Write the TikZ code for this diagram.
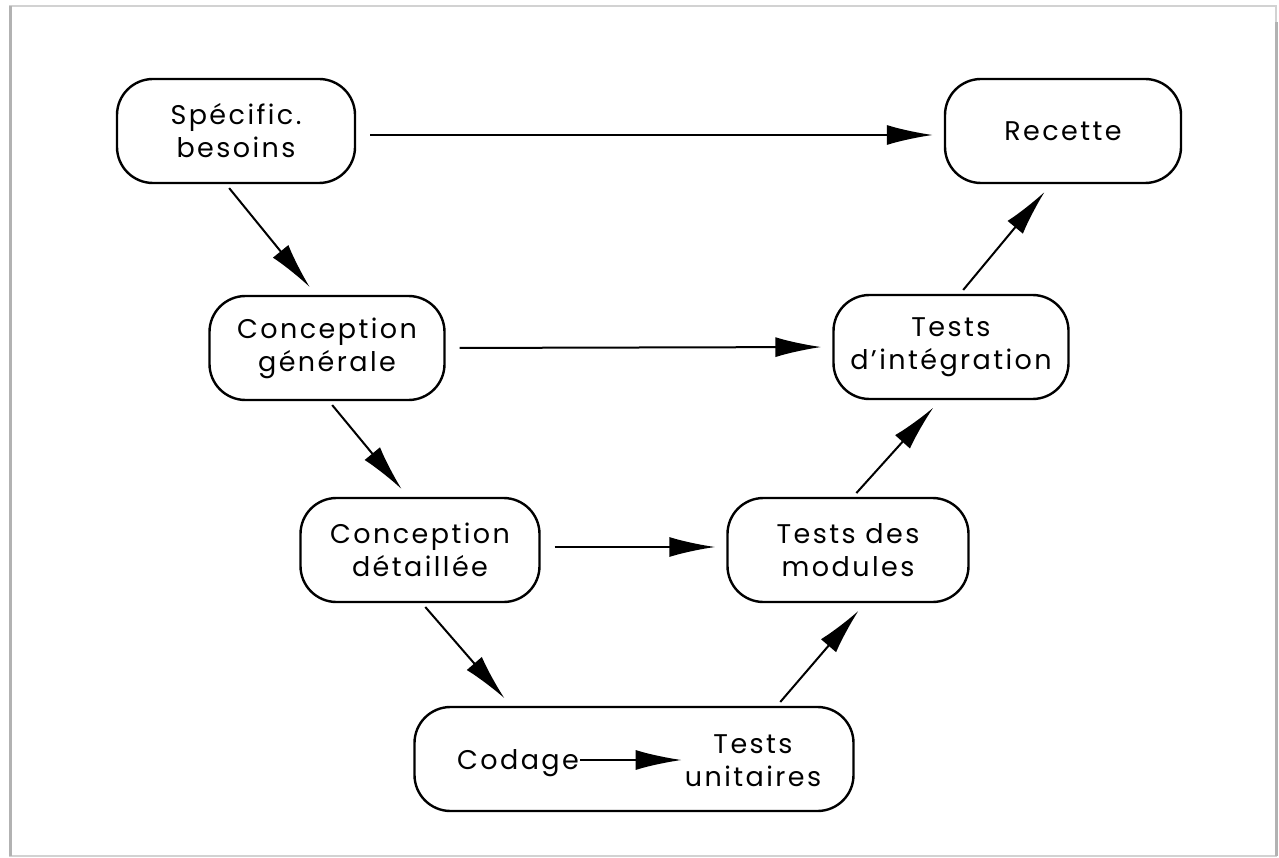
\documentclass[tikz,border=0pt]{standalone}
\usepackage{fontspec}
\setmainfont{Poppins}[LetterSpace=9]
\usepackage{tikz}
\usetikzlibrary{arrows.meta, positioning, calc}

\begin{document}
\begin{tikzpicture}[
    x=1pt, y=-1pt,
    etape/.style={draw, line width=2.4pt, rounded corners=36pt, minimum height=104pt,
                  minimum width=238pt, align=center, inner sep=0pt,
                  font=\fontsize{27}{33}\selectfont},
    texte/.style={align=center, inner sep=0pt, font=\fontsize{27}{33}\selectfont},
    fleche/.style={-{Latex[length=46pt, width=20pt]}, line width=2pt},
    horiz/.style={fleche, shorten <=14pt, shorten >=11pt},
    diag/.style={fleche, shorten <=5pt, shorten >=10pt}
  ]
    \useasboundingbox (0,0) rectangle (1279,858);
    % cadre
    \draw[gray!35, line width=1.2pt] (10,6) rectangle (1276,856);
    \draw[gray!60, line width=3pt] (10,6) -- (10,856);
    \draw[gray!60, line width=3pt] (1276,22) -- (1276,856);

    % etapes
    \node[etape] (spec) at (236,131) {Spécific.\\besoins};
    \node[etape, minimum width=236pt] (rec) at (1063,131) {Recette};
    \node[etape, minimum width=235pt] (cg) at (327,348) {Conception\\générale};
    \node[etape, minimum width=235pt] (ti) at (951,347) {Tests\\d'intégration};
    \node[etape, minimum width=239pt] (cd) at (420,550) {Conception\\détaillée};
    \node[etape, minimum width=241pt] (tm) at (848,550) {Tests des\\modules};
    \node[etape, minimum width=439pt] (cod) at (634,759) {};
    \node[texte] (codage) at (518,763) {Codage};
    \node[texte] (tu) at (753,761) {Tests\\unitaires};

    % fleches
    \draw[horiz] ([yshift=-4pt]spec.east) -- ([yshift=-4pt]rec.west);
    \draw[horiz] (cg.east) -- (ti.west);
    \draw[horiz] ([yshift=3pt]cd.east) -- ([yshift=3pt]tm.west);
    \draw[diag] ([xshift=-10pt]spec.south) -- ([xshift=-11pt]cg.north);
    \draw[diag] ([xshift=2pt]cg.south) -- ([xshift=-12pt]cd.north);
    \draw[diag] ([xshift=2pt]cd.south) -- ([xshift=-123pt]cod.north);
    \draw[diag] ([xshift=143pt]cod.north) -- ([xshift=17pt]tm.south);
    \draw[diag] ([xshift=5pt]tm.north) -- ([xshift=-11pt]ti.south);
    \draw[diag] ([xshift=9pt]ti.north) -- ([xshift=-12pt]rec.south);
    \draw[fleche, shorten <=1pt, shorten >=3pt] ([yshift=3pt]codage.east) -- ([yshift=3pt]codage.east -| tu.west);
\end{tikzpicture}
\end{document}
